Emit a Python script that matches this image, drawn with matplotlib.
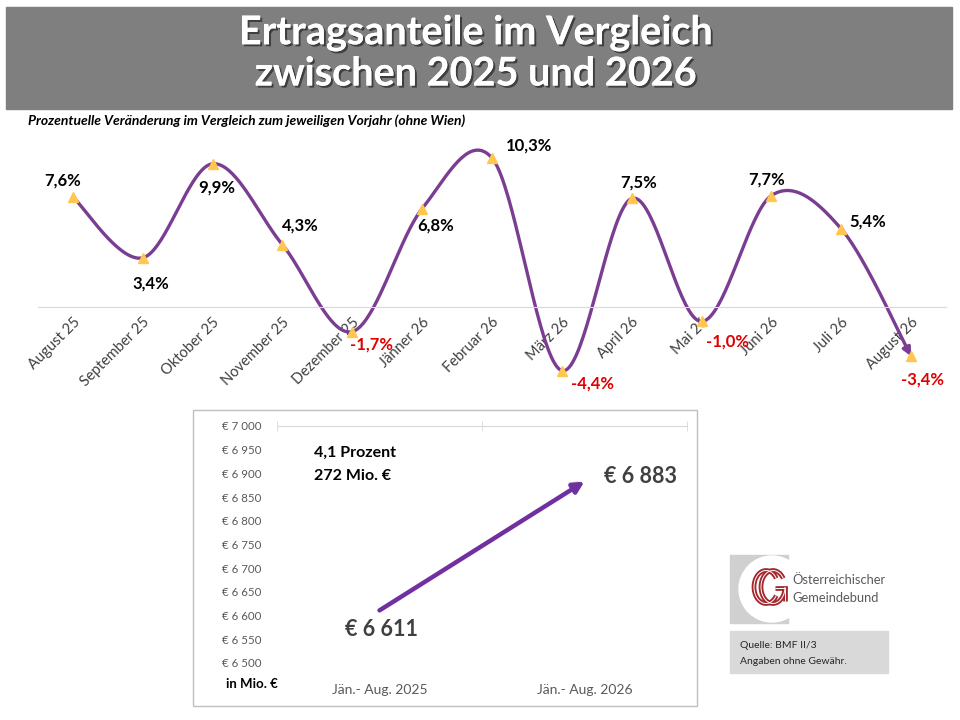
import numpy as np
import matplotlib
matplotlib.use("Agg")
import matplotlib.pyplot as plt
import matplotlib.patheffects as pe
from matplotlib.patches import Rectangle, Circle, Arc, FancyArrowPatch

plt.rcParams['font.family'] = ['Lato', 'DejaVu Sans']

# --- data ---
months = ["August 25", "September 25", "Oktober 25", "November 25", "Dezember 25",
          "Jänner 26", "Februar 26", "März 26", "April 26", "Mai 26", "Juni 26",
          "Juli 26", "August 26"]
change_pct = [7.6, 3.4, 9.9, 4.3, -1.7, 6.8, 10.3, -4.4, 7.5, -1.0, 7.7, 5.4, -3.4]
# label offsets (pixels) relative to each point
label_dx = [-10, 8, 4, 18, 19, 13, 37, 31, 7, 26, -5, 26, 11]
label_dy = [17, -26, -24, 19, -13, -17, 12, -13, 16, -20, 16, 7, -23]

periods = ["Jän.- Aug. 2025", "Jän.- Aug. 2026"]
totals = [6611, 6883]
y_ticks = [6500, 6550, 6600, 6650, 6700, 6750, 6800, 6850, 6900, 6950, 7000]

W, H = 960, 720
PURPLE = "#7B3D91"
ARROW = "#7030A0"
LOGO_RED = "#A3282E"


def fx(px):
    return px / W


def fy(py):
    return 1 - py / H


def smooth(y, n=40):
    # excel-like smoothed line (catmull-rom as bezier)
    y = np.asarray(y, float)
    x = np.arange(len(y), dtype=float)
    pts = np.column_stack([x, y])
    out = []
    for i in range(len(pts) - 1):
        p0 = pts[max(i - 1, 0)]
        p1 = pts[i]
        p2 = pts[i + 1]
        p3 = pts[min(i + 2, len(pts) - 1)]
        c1 = p1 + (p2 - p0) / 6
        c2 = p2 - (p3 - p1) / 6
        t = np.linspace(0, 1, n)[:, None]
        seg = ((1 - t) ** 3) * p1 + 3 * ((1 - t) ** 2) * t * c1 + 3 * (1 - t) * t ** 2 * c2 + t ** 3 * p2
        out.append(seg if i == 0 else seg[1:])
    return np.vstack(out)


fig = plt.figure(figsize=(9.6, 7.2), dpi=100)

# background overlay in pixel coords
bg = fig.add_axes([0, 0, 1, 1])
bg.set_xlim(0, W)
bg.set_ylim(H, 0)
bg.axis("off")
bg.add_patch(Rectangle((6, 7), 946, 102, color="#7F7F7F", zorder=0))
title_fx = [pe.withSimplePatchShadow(offset=(1.5, -1.5), shadow_rgbFace="black", alpha=0.5), pe.Normal()]
bg.text(476, 33, "Ertragsanteile im Vergleich", color="white", fontsize=28.5, fontweight="bold",
        ha="center", va="center", path_effects=title_fx)
bg.text(476, 74, "zwischen 2025 und 2026", color="white", fontsize=28.5, fontweight="bold",
        ha="center", va="center", path_effects=title_fx)
bg.text(28, 121, "Prozentuelle Veränderung im Vergleich zum jeweiligen Vorjahr (ohne Wien)",
        fontsize=10, fontstyle="italic", fontweight="bold", ha="left", va="center")

# lower panel frame
bg.add_patch(Rectangle((193, 410), 504, 296, fill=False, edgecolor="#BFBFBF", lw=1))
bg.text(226, 684, "in Mio. €", fontsize=9.5, fontweight="bold", ha="left", va="center")

# logo
bg.add_patch(Rectangle((730, 555), 58, 68, color="#D0D0D0", zorder=1))
bg.add_patch(Circle((772, 589), 33, color="white", zorder=2))
for lw, col in [(3.4, LOGO_RED), (0.7, "white")]:
    bg.add_patch(Arc((766, 587), 24, 33, theta1=40, theta2=320, lw=lw, color=col, zorder=3))
    bg.add_patch(Arc((773, 587), 24, 33, theta1=0, theta2=320, lw=lw, color=col, zorder=3))
    bg.plot([775, 785, 785], [588, 588, 601], lw=lw, color=col, zorder=3,
            solid_capstyle="butt", solid_joinstyle="miter")
bg.text(792, 580, "Österreichischer", fontsize=9.3, color="#595959", ha="left", va="center", zorder=3)
bg.text(792, 598, "Gemeindebund", fontsize=9.3, color="#595959", ha="left", va="center", zorder=3)

# source box
bg.add_patch(Rectangle((730, 631), 158, 42, color="#D9D9D9", zorder=1))
bg.text(740, 645, "Quelle: BMF II/3", fontsize=7.5, color="#262626", ha="left", va="center", zorder=3)
bg.text(740, 661, "Angaben ohne Gewähr.", fontsize=7.5, color="#262626", ha="left", va="center", zorder=3)

# --- top chart ---
ax1 = fig.add_axes([fx(38), fy(390), fx(946) - fx(38), fy(135) - fy(390)])
ax1.patch.set_alpha(0)
x = np.arange(len(months))
curve = smooth(change_pct)
ax1.plot(curve[:-2, 0], curve[:-2, 1], color=PURPLE, lw=2.4, solid_capstyle="round", zorder=2)
ax1.add_patch(FancyArrowPatch(tuple(curve[-4]), tuple(curve[-1]), arrowstyle="-|>",
                              mutation_scale=12, color=PURPLE, lw=2.4, shrinkA=0, shrinkB=0, zorder=2))
ax1.plot(x, change_pct, ls="none", marker="^", ms=6.5, color="#FFC74F", zorder=3)
for i, v in enumerate(change_pct):
    ax1.annotate(f"{v:.1f}%".replace(".", ","), (x[i], v), xytext=(label_dx[i], label_dy[i]),
                 textcoords="offset pixels", ha="center", va="center", fontsize=12,
                 fontweight="bold", color="#E00000" if v < 0 else "black", zorder=4)
ax1.set_xlim(-0.5, len(months) - 0.5)
ax1.set_ylim(-5.74, 11.89)
for s in ["top", "right", "left"]:
    ax1.spines[s].set_visible(False)
ax1.spines["bottom"].set_position(("data", 0))
ax1.spines["bottom"].set_color("#D9D9D9")
ax1.set_yticks([])
ax1.set_xticks(x)
ax1.set_xticklabels(months, rotation=45, ha="right", va="top", rotation_mode="anchor",
                    fontsize=10.5, color="#404040")
ax1.tick_params(axis="x", length=0, pad=6)

# --- lower chart ---
ax2 = fig.add_axes([fx(277), fy(663), fx(687) - fx(277), fy(426) - fy(663)])
ax2.patch.set_alpha(0)
ax2.set_xlim(-0.5, 1.5)
ax2.set_ylim(6500, 7000)
for s in ["bottom", "right", "left"]:
    ax2.spines[s].set_visible(False)
ax2.spines["top"].set_color("#D9D9D9")
ax2.set_yticks(y_ticks)
ax2.set_yticklabels([f"€ {v:,}".replace(",", " ") for v in y_ticks], fontsize=8.3, color="#595959")
ax2.tick_params(axis="y", length=0, pad=11)
ax2.set_xticks([0, 1])
ax2.set_xticklabels(periods, fontsize=10, color="#595959")
ax2.tick_params(axis="x", length=0, pad=15)
ax2.set_xticks([-0.5, 0.5, 1.5], minor=True)
ax2.tick_params(axis="x", which="minor", top=True, bottom=False, direction="inout",
                length=7, color="#D9D9D9")

ax2.annotate("", xy=(1, totals[1]), xytext=(0, totals[0]),
             arrowprops=dict(arrowstyle="-|>", color=ARROW, lw=3.2, mutation_scale=16,
                             shrinkA=0, shrinkB=0,
                             path_effects=[pe.withSimplePatchShadow(offset=(-1.5, 2), shadow_rgbFace="#808080",
                                                                    alpha=0.35)]))
ax2.annotate("€ 6 611", (0, totals[0]), xytext=(2, -19), textcoords="offset pixels",
             ha="center", va="center", fontsize=15.5, fontweight="bold", color="#404040")
ax2.annotate("€ 6 883", (1, totals[1]), xytext=(19, 5), textcoords="offset pixels",
             ha="left", va="center", fontsize=15.5, fontweight="bold", color="#404040")
ax2.text(0.09, 0.885, "4,1 Prozent", transform=ax2.transAxes, fontsize=11.5, fontweight="bold",
         ha="left", va="center")
ax2.text(0.09, 0.79, "272 Mio. €", transform=ax2.transAxes, fontsize=11.5, fontweight="bold",
         ha="left", va="center")

fig.savefig("out.png", dpi=100)
